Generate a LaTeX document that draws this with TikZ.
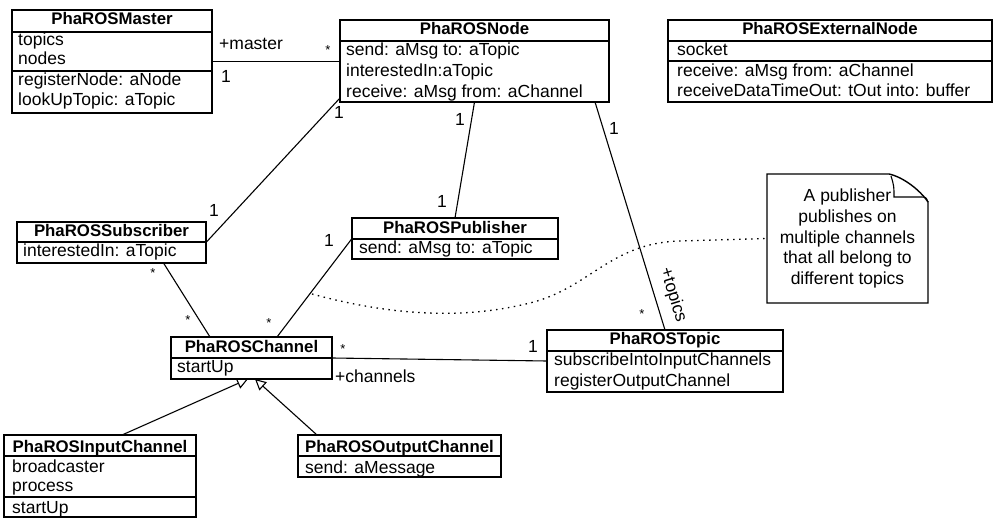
\documentclass[tikz,border=0pt]{standalone}
\usepackage{fontspec}
\setmainfont{Liberation Sans}
\usetikzlibrary{arrows.meta,calc}
\newcommand\basefont{\fontsize{17.5}{20.7}\selectfont}
\tikzset{
  cls/.style={draw, line width=1.4pt, rectangle, anchor=north west, inner sep=0pt, outer sep=0pt},
  ttl/.style={anchor=base, inner sep=0pt, font=\fontsize{16.8}{20}\selectfont\bfseries},
  txt/.style={anchor=base west, inner sep=0pt},
  lbl/.style={anchor=base, inner sep=0pt},
  star/.style={anchor=base, inner sep=0pt, font=\fontsize{13}{15}\selectfont},
  sepline/.style={line width=1.4pt},
  assoc/.style={line width=1.1pt},
  gen/.style={line width=1.1pt, -{Triangle[open, length=11pt, width=11pt, line width=1.1pt]}},
  dots/.style={line width=1.3pt, dash pattern=on 1.5pt off 4.5pt},
}
\begin{document}
\begin{tikzpicture}[x=1pt, y=-1pt, font=\basefont]
\useasboundingbox (0,0) rectangle (993,518);

% ---------- class boxes ----------
\node[cls, minimum width=200pt, minimum height=103pt] (master) at (12,10) {};
\draw[sepline] (12,32) -- (212,32);
\draw[sepline] (12,71) -- (212,71);
\node[ttl] at (112,25) {PhaROSMaster};
\node[txt] at (18,46) {topics};
\node[txt] at (18,65) {nodes};
\node[txt] at (18,86) {registerNode: aNode};
\node[txt] at (18,106) {lookUpTopic: aTopic};

\node[cls, minimum width=269pt, minimum height=82pt] (pnode) at (340,20) {};
\draw[sepline] (340,41) -- (609,41);
\node[ttl] at (474.5,35) {PhaROSNode};
\node[txt] at (346,56) {send: aMsg to: aTopic};
\node[txt] at (346,77) {interestedIn:aTopic};
\node[txt] at (346,98) {receive: aMsg from: aChannel};

\node[cls, minimum width=324pt, minimum height=82pt] (ext) at (668,20) {};
\draw[sepline] (668,41) -- (992,41);
\draw[sepline] (668,61) -- (992,61);
\node[ttl] at (830,35) {PhaROSExternalNode};
\node[txt] at (677,56) {socket};
\node[txt] at (677,77) {receive: aMsg from: aChannel};
\node[txt] at (677,97) {receiveDataTimeOut: tOut into: buffer};

\node[cls, minimum width=189pt, minimum height=41pt] (sub) at (17,222) {};
\draw[sepline] (17,242) -- (206,242);
\node[ttl] at (111.5,237) {PhaROSSubscriber};
\node[txt] at (23,257) {interestedIn: aTopic};

\node[cls, minimum width=206pt, minimum height=41pt] (pub) at (352,218) {};
\draw[sepline] (352,239) -- (558,239);
\node[ttl] at (455,234) {PhaROSPublisher};
\node[txt] at (359,254) {send: aMsg to: aTopic};

\node[cls, minimum width=161pt, minimum height=42pt] (chan) at (171,337) {};
\draw[sepline] (171,358) -- (332,358);
\node[ttl] at (251.5,353) {PhaROSChannel};
\node[txt] at (177,373) {startUp};

\node[cls, minimum width=236pt, minimum height=62pt] (topic) at (547,330) {};
\draw[sepline] (547,351) -- (783,351);
\node[ttl] at (665,345) {PhaROSTopic};
\node[txt] at (554,366) {subscribeIntoInputChannels};
\node[txt] at (554,387) {registerOutputChannel};

\node[cls, minimum width=192pt, minimum height=82pt] (input) at (4,435) {};
\draw[sepline] (4,456) -- (196,456);
\draw[sepline] (4,497) -- (196,497);
\node[ttl] at (100,452) {PhaROSInputChannel};
\node[txt] at (12,472) {broadcaster};
\node[txt] at (12,491) {process};
\node[txt] at (12,513) {startUp};

\node[cls, minimum width=203pt, minimum height=42pt] (output) at (298,435) {};
\draw[sepline] (298,456) -- (501,456);
\node[ttl] at (399.5,452) {PhaROSOutputChannel};
\node[txt] at (305,473) {send: aMessage};

% ---------- note ----------
\node[anchor=north west, minimum width=161pt, minimum height=129pt, inner sep=0pt, outer sep=0pt, align=center] (note) at (767,174)
  {A publisher\\publishes on\\multiple channels\\that all belong to\\different topics};
\draw[sepline] (note.north west) -- (889,174) .. controls (903,177) and (920,190) .. (928,202) -- (note.south east) -- (note.south west) -- cycle;
\draw[assoc] (891,176) .. controls (894,186) .. (894,197) -- (920,197) .. controls (926,197) .. (928,202);

% ---------- connectors ----------
\draw[assoc] (master.east) -- (master.east -| pnode.west);
\draw[assoc] ([yshift=4pt]pnode.south west) -- (sub.east);
\draw[assoc] (pnode.south) -- (pub.north);
\draw[assoc] ([xshift=-14pt]pnode.south east) -- (topic.north);
\draw[assoc] ([xshift=52pt]sub.south) -- ([xshift=-41.5pt]chan.north);
\draw[assoc] (pub.west) -- ([xshift=25.5pt]chan.north);
\draw[assoc] (chan.east) -- (topic.west);
\draw[gen] ([xshift=22pt]input.north) -- ([xshift=-3.5pt]chan.south);
\draw[gen] ([xshift=-82.5pt]output.north) -- ([xshift=3.5pt]chan.south);

\coordinate (dotstart) at (312,294);
\draw[dots] (dotstart) .. controls (400,318) and (470,318) .. (530,303) .. controls (590,288) and (610,243) .. (680,241) -- (note.west);

% ---------- labels ----------
\node[txt] at (219,50) {+master};
\node[star] at (328,55) {*};
\node[lbl] at (226,83) {1};
\node[lbl] at (339,119) {1};
\node[lbl] at (214,217) {1};
\node[lbl] at (460,126) {1};
\node[lbl] at (442,208) {1};
\node[lbl] at (614,135) {1};
\node[star] at (642,319) {*};
\node[rotate=-73, inner sep=0pt] at (673,295) {+topics};
\node[star] at (153,278) {*};
\node[star] at (188,325) {*};
\node[lbl] at (329,247) {1};
\node[star] at (269,328) {*};
\node[star] at (343,354) {*};
\node[lbl] at (533,353) {1};
\node[txt] at (335,383) {+channels};
\end{tikzpicture}
\end{document}
